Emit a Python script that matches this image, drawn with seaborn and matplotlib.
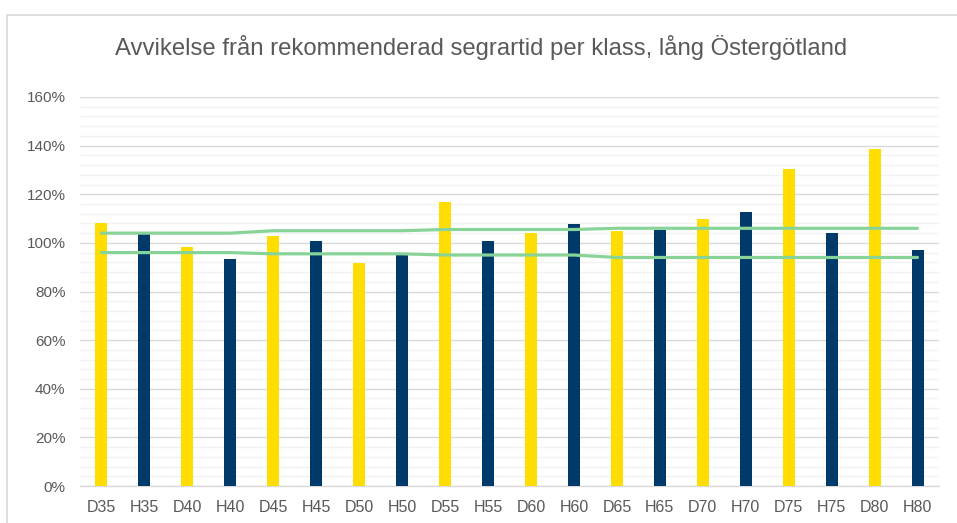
import numpy as np
import pandas as pd
import matplotlib
matplotlib.use("Agg")
import matplotlib.pyplot as plt
from matplotlib.patches import Rectangle
from matplotlib.ticker import MultipleLocator, FuncFormatter
import seaborn as sns

# klasser och avvikelse (%) från rekommenderad segrartid
klasser = ["D35", "H35", "D40", "H40", "D45", "H45", "D50", "H50", "D55", "H55",
           "D60", "H60", "D65", "H65", "D70", "H70", "D75", "H75", "D80", "H80"]
avvikelse = [108, 103.5, 98.3, 93.5, 102.7, 100.7, 91.8, 95, 116.8, 100.6,
             104.2, 107.9, 104.7, 105.2, 109.8, 112.9, 130.3, 103.9, 138.6, 96.9]
kon = [k[0] for k in klasser]

# gränser (övre / undre)
ovre = [104, 104, 104, 104, 105, 105, 105, 105, 105.5, 105.5,
        105.5, 105.5, 106, 106, 106, 106, 106, 106, 106, 106]
undre = [96, 96, 96, 96, 95.5, 95.5, 95.5, 95.5, 95, 95,
         95, 95, 94, 94, 94, 94, 94, 94, 94, 94]

df = pd.DataFrame({"klass": klasser, "avvikelse": avvikelse, "kon": kon})

sns.set_style("white")
plt.rcParams["font.family"] = ["Liberation Sans", "DejaVu Sans"]

fig = plt.figure(figsize=(9.57, 5.23), dpi=100)
W, H = 957, 523

# ram runt diagrammet
fig.patches.append(Rectangle((7 / W, -0.05), 1.0, (H - 15) / H + 0.05,
                             transform=fig.transFigure, fill=False,
                             edgecolor="#D9D9D9", linewidth=1.2, zorder=0))

ax = fig.add_axes([80 / W, (H - 486) / H, (939 - 80) / W, (486 - 97) / H])

sns.barplot(data=df, x="klass", y="avvikelse", hue="kon",
            palette={"D": "#FFDD00", "H": "#003A6A"}, saturation=1,
            width=0.28, dodge=False, legend=False, linewidth=0, ax=ax, zorder=3)

pos = np.arange(len(klasser))
sns.lineplot(x=pos, y=ovre, color="#88D498", linewidth=2.3, ax=ax, zorder=4)
sns.lineplot(x=pos, y=undre, color="#88D498", linewidth=2.3, ax=ax, zorder=4)

ax.set_ylim(0, 160)
ax.set_xlim(-0.5, len(klasser) - 0.5)
ax.yaxis.set_major_locator(MultipleLocator(20))
ax.yaxis.set_minor_locator(MultipleLocator(4))
ax.yaxis.set_major_formatter(FuncFormatter(lambda v, p: f"{v:.0f}%"))
ax.grid(which="minor", axis="y", color="#F2F2F2", linewidth=1.0, zorder=0)
ax.grid(which="major", axis="y", color="#D9D9D9", linewidth=1.0, zorder=1)
ax.set_axisbelow(True)

for s in ["top", "right", "left"]:
    ax.spines[s].set_visible(False)
ax.spines["bottom"].set_color("#D9D9D9")
ax.spines["bottom"].set_linewidth(1.0)

ax.set_xticks(pos)
ax.set_xticklabels(klasser)
ax.set_xticks(np.arange(-0.5, len(klasser)), minor=True)
ax.tick_params(axis="x", which="major", length=0, pad=10, labelsize=11.5, labelcolor="#595959")
ax.tick_params(axis="x", which="minor", length=4, color="#D9D9D9", width=1)
ax.tick_params(axis="y", which="both", length=0, pad=10.5, labelsize=11, labelcolor="#595959")
ax.set_xlabel("")
ax.set_ylabel("")

fig.text(0.503, (H - 47) / H, "Avvikelse från rekommenderad segrartid per klass, lång Östergötland",
         ha="center", va="center", fontsize=17.2, color="#595959")

fig.savefig("out.png", dpi=100)
